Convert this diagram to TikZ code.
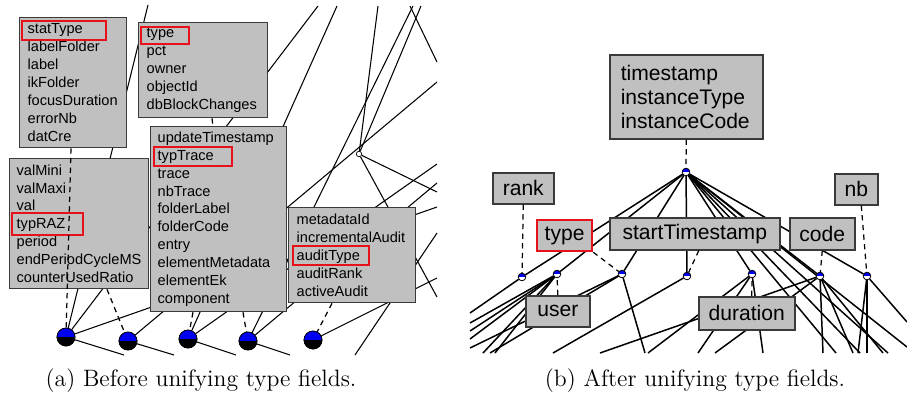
\documentclass[tikz,border=0pt]{standalone}
\usepackage{fontspec}
\newfontfamily\arialf{Liberation Sans}
\usetikzlibrary{backgrounds}
\definecolor{boxgray}{HTML}{C0C0C0}
\definecolor{boxline}{HTML}{3A3A3A}
\definecolor{hlred}{HTML}{E8101A}
\definecolor{dotblue}{HTML}{0000F0}
\begin{document}
\begin{tikzpicture}[x=0.02cm,y=-0.02cm,
  lbox/.style={draw=boxline, fill=boxgray, line width=0.75pt, font=\arialf\fontsize{8.3}{10.2}\selectfont, align=left, inner sep=0pt, anchor=north west},
  rbox/.style={draw=boxline, fill=boxgray, line width=0.9pt, font=\arialf\fontsize{12}{13.6}\selectfont, inner sep=0pt, anchor=north west},
  hl/.style={draw=hlred, line width=1.1pt},
  ledge/.style={line width=0.6pt, black},
  redge/.style={line width=0.85pt, black},
  dashedge/.style={line width=0.7pt, dashed, dash pattern=on 3pt off 2.5pt},
  bigdot/.style={circle, draw=black, line width=0.4pt, minimum size=0.36cm, inner sep=0pt,
    path picture={\fill[dotblue] (path picture bounding box.north west) rectangle (path picture bounding box.east);
                  \fill[black] (path picture bounding box.west) rectangle (path picture bounding box.south east);}},
  smalldot/.style={circle, draw=black, line width=0.4pt, fill=white, minimum size=0.15cm, inner sep=0pt,
    path picture={\fill[dotblue] (path picture bounding box.north west) rectangle (path picture bounding box.east);}},
  wdot/.style={circle, draw=black, line width=0.4pt, fill=white, minimum size=0.11cm, inner sep=0pt},
  captext/.style={font=\fontsize{13.5}{16}\selectfont}
]
\useasboundingbox (0,0) rectangle (907,400);

% ---------------- left panel: boxes ----------------
\node[lbox, minimum width=2.14cm, minimum height=2.6cm, text width=1.82cm] (b1) at (19,17)
  {statType\\labelFolder\\label\\ikFolder\\focusDuration\\errorNb\\datCre};
\node[lbox, minimum width=2.58cm, minimum height=1.9cm, text width=2.26cm] (b2) at (138,22)
  {type\\pct\\owner\\objectId\\dbBlockChanges};
\node[lbox, minimum width=2.78cm, minimum height=2.6cm, text width=2.5cm] (b4) at (9,158)
  {valMini\\valMaxi\\val\\typRAZ\\period\\endPeriodCycleMS\\counterUsedRatio};
\node[lbox, minimum width=2.72cm, minimum height=3.7cm, text width=2.44cm] (b3) at (150,126)
  {updateTimestamp\\typTrace\\trace\\nbTrace\\folderLabel\\folderCode\\entry\\elementMetadata\\elementEk\\component};
\node[lbox, minimum width=2.54cm, minimum height=1.9cm, text width=2.22cm] (b5) at (288,207)
  {metadataId\\incrementalAudit\\auditType\\auditRank\\activeAudit};

\draw[hl] (22,21) rectangle (106,40);
\draw[hl] (141,27) rectangle (189,44);
\draw[hl] (154,147) rectangle (232,166);
\draw[hl] (12,213) rectangle (83,235);
\draw[hl] (293,246) rectangle (369,265);

\node[bigdot] (c1) at (66,337) {};
\node[bigdot] (c2) at (128,341) {};
\node[bigdot] (c3) at (188,339) {};
\node[bigdot] (c4) at (248,341) {};
\node[bigdot] (c5) at (313,340) {};
\node[wdot] (w) at (359,154) {};

% dashed connectors from boxes
\draw[dashedge] ([xshift=1.04cm]b1.south west) -- (c1);
\draw[dashedge] ([xshift=1.96cm]b4.south west) -- (c2);
\draw[dashedge] ([xshift=0.86cm]b3.south west) -- (c3);
\draw[dashedge] ([xshift=1.86cm]b3.south west) -- (c4);
\draw[dashedge] ([xshift=0.88cm]b5.south west) -- (c5);
\draw[dashedge] ([xshift=1.48cm]b2.south west) -- ([xshift=1.26cm]b3.north west);
\foreach \d in {c1,c2,c3,c4,c5}{\node[bigdot] at (\d) {};}

% border coordinates of the left panel
\coordinate (la) at (148,5);
\coordinate (lb) at (318,6);
\coordinate (lc) at (437,207);
\coordinate (ld) at (124,355);
\coordinate (le) at (174,355);
\coordinate (lf) at (437,82);
\coordinate (lg) at (236,355);
\coordinate (lh) at (437,164);
\coordinate (li) at (337,6);
\coordinate (lj) at (413,6);
\coordinate (lk) at (437,183);
\coordinate (ll) at (290,355);
\coordinate (lm) at (437,278);
\coordinate (ln) at (378,6);
\coordinate (lo) at (421,6);
\coordinate (lp) at (437,192);
\coordinate (lq) at (437,297);
\coordinate (lr) at (410,6);
\coordinate (ls) at (437,62);
\coordinate (lt) at (355,355);
\coordinate (lu) at (437,233);

\begin{scope}[on background layer]
  \draw[ledge] (c1) -- (la);
  \draw[ledge] (c1) -- (lb);
  \draw[ledge] (c1) -- (lc);
  \draw[ledge] (c1) -- (ld);
  \draw[ledge] (c2) -- (le);
  \draw[ledge] (c2) -- (lf);
  \draw[ledge] (c3) -- (lg);
  \draw[ledge] (c3) -- (lh);
  \draw[ledge] (c3) -- (li);
  \draw[ledge] (c4) -- (lj);
  \draw[ledge] (c4) -- (lk);
  \draw[ledge] (c4) -- (ll);
  \draw[ledge] (c5) -- (lm);
  \draw[ledge] (w) -- (ln);
  \draw[ledge] (w) -- (lo);
  \draw[ledge] (w) -- (lp);
  \draw[ledge] (w) -- (lq);
  \draw[ledge] (lr) -- (ls);
  \draw[ledge] (lt) -- (lu);
\end{scope}

% ---------------- right panel ----------------
\node[rbox, align=left, minimum width=3.06cm, minimum height=1.68cm, text width=2.62cm] (big) at (609,54)
  {timestamp\\instanceType\\instanceCode};
\node[rbox, minimum width=1.22cm, minimum height=0.62cm] (rank) at (492,172) {rank};
\node[rbox, minimum width=0.86cm, minimum height=0.62cm] (nb) at (834,173) {nb};
\node[rbox, draw=hlred, line width=1.3pt, minimum width=1.1cm, minimum height=0.62cm] (type) at (536,219) {type};
\node[rbox, minimum width=3.4cm, minimum height=0.64cm] (start) at (609,217) {startTimestamp};
\node[rbox, minimum width=1.3cm, minimum height=0.64cm] (code) at (789,217) {code};
\node[rbox, minimum width=1.28cm, minimum height=0.62cm] (user) at (525,295) {user};
\node[rbox, minimum width=1.92cm, minimum height=0.66cm] (dur) at (698,296) {duration};

\node[smalldot] (T) at (686,172) {};
\node[smalldot] (n1) at (522,277) {};
\node[smalldot] (n2) at (557,274) {};
\node[smalldot] (n3) at (622,274) {};
\node[smalldot] (n4) at (687,276) {};
\node[smalldot] (n5) at (752,274) {};
\node[smalldot] (n6) at (820,276) {};
\node[smalldot] (n7) at (867,276) {};

\coordinate (ra) at (836,353);
\coordinate (rb) at (860,353);
\coordinate (rc) at (888,353);
\coordinate (rd) at (907,347);
\coordinate (re) at (470,313);
\coordinate (rf) at (470,323);
\coordinate (rg) at (470,331);
\coordinate (rh) at (470,339);
\coordinate (ri) at (483,353);
\coordinate (rj) at (495,353);
\coordinate (rk) at (490,353);
\coordinate (rl) at (470,348);
\coordinate (rm) at (645,353);
\coordinate (rn) at (553,353);
\coordinate (ro) at (648,353);
\coordinate (rp) at (698,353);
\coordinate (rq) at (763,353);
\coordinate (rr) at (600,353);
\coordinate (rs) at (823,353);
\coordinate (rt) at (853,353);
\coordinate (ru) at (883,353);
\coordinate (rv) at (858,353);
\coordinate (rw) at (867,353);
\coordinate (rx) at (907,322);
\coordinate (ry) at (715,353);

\begin{scope}[on background layer]
  \foreach \t in {n1,n2,n3,n4,n5,n6,n7,ra,rb,rc,rd}{\draw[redge] (T) -- (\t);}
  \draw[redge] (n1) -- (re);
  \foreach \t in {rf,rg,rh,ri,rj}{\draw[redge] (n2) -- (\t);}
  \foreach \t in {rk,rl,rm}{\draw[redge] (n3) -- (\t);}
  \draw[redge] (n4) -- (rn);
  \foreach \t in {ro,rp,rq}{\draw[redge] (n5) -- (\t);}
  \foreach \t in {rr,ry,rs,rt,ru}{\draw[redge] (n6) -- (\t);}
  \foreach \t in {rv,rw,rx}{\draw[redge] (n7) -- (\t);}
\end{scope}

\draw[dashedge] (big.south) -- (T);
\draw[dashedge] (rank.south) -- (n1);
\draw[dashedge] ([xshift=0.1cm]nb.south) -- (n7);
\draw[dashedge] (code.south) -- (n6);
\draw[dashedge] (type.south east) -- (n3);
\draw[dashedge] (user.north) -- (n2);
\draw[dashedge] ([xshift=0.1cm]dur.north) -- (n5);
\draw[dashedge] ([xshift=0.08cm]start.south) -- (n4);

% redraw dots on top of dashed lines
\foreach \d in {T,n1,n2,n3,n4,n5,n6,n7}{\node[smalldot] at (\d) {};}

% captions
\node[captext] (capa) at (201,381) {(a) Before unifying type fields.};
\node[captext] (capb) at (695,381) {(b) After unifying type fields.};
\end{tikzpicture}
\end{document}
